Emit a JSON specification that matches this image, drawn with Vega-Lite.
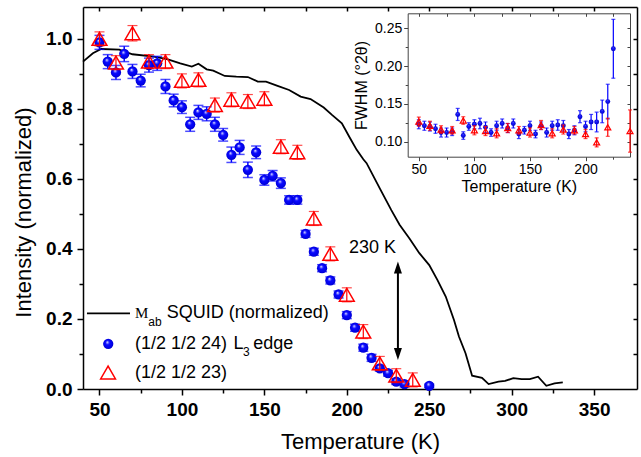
{
  "$schema": "https://vega.github.io/schema/vega-lite/v6.json",
  "width": 554,
  "height": 382,
  "autosize": {"type": "none"},
  "padding": {"left": 83, "top": 7, "right": 4, "bottom": 68},
  "background": "white",
  "config": {
    "view": {"stroke": null},
    "axis": {"grid": false, "labelFont": "Liberation Sans", "titleFont": "Liberation Sans", "domainColor": "black", "tickColor": "black", "labelColor": "black", "titleColor": "black", "labelOverlap": false, "labelFlush": false},
    "text": {"font": "Liberation Sans", "color": "black"}
  },
  "datasets": {
    "squid": [
      {"T": 40, "M": 0.935}, {"T": 46, "M": 0.959}, {"T": 51, "M": 0.971}, {"T": 62, "M": 0.969}, {"T": 70, "M": 0.956},
      {"T": 83, "M": 0.949}, {"T": 91, "M": 0.942}, {"T": 99, "M": 0.930}, {"T": 106, "M": 0.921}, {"T": 110, "M": 0.929},
      {"T": 115, "M": 0.913}, {"T": 119, "M": 0.909}, {"T": 126, "M": 0.894}, {"T": 133, "M": 0.892}, {"T": 140, "M": 0.891},
      {"T": 146, "M": 0.878}, {"T": 151, "M": 0.878}, {"T": 158, "M": 0.866}, {"T": 165, "M": 0.854}, {"T": 172, "M": 0.835},
      {"T": 178, "M": 0.828}, {"T": 186, "M": 0.804}, {"T": 191, "M": 0.783}, {"T": 197, "M": 0.759}, {"T": 202, "M": 0.716},
      {"T": 206, "M": 0.683}, {"T": 210, "M": 0.656}, {"T": 212, "M": 0.645}, {"T": 220, "M": 0.573}, {"T": 227, "M": 0.511},
      {"T": 232, "M": 0.469}, {"T": 238, "M": 0.430}, {"T": 244, "M": 0.388}, {"T": 250, "M": 0.354}, {"T": 255, "M": 0.311},
      {"T": 260, "M": 0.264}, {"T": 265, "M": 0.197}, {"T": 268, "M": 0.150}, {"T": 272, "M": 0.102}, {"T": 276, "M": 0.038},
      {"T": 282, "M": 0.032}, {"T": 286, "M": 0.014}, {"T": 292, "M": 0.021}, {"T": 296, "M": 0.023}, {"T": 301, "M": 0.031},
      {"T": 306, "M": 0.028}, {"T": 311, "M": 0.028}, {"T": 316, "M": 0.035}, {"T": 321, "M": 0.009}, {"T": 326, "M": 0.016},
      {"T": 331, "M": 0.019}
    ],
    "blue": [
      {"T": 50, "I": 0.99, "e": 0.02}, {"T": 55, "I": 0.935, "e": 0.02}, {"T": 60, "I": 0.904, "e": 0.02}, {"T": 65, "I": 0.957, "e": 0.022},
      {"T": 70, "I": 0.907, "e": 0.02}, {"T": 75, "I": 0.881, "e": 0.018}, {"T": 80, "I": 0.925, "e": 0.02}, {"T": 85, "I": 0.93, "e": 0.02},
      {"T": 90, "I": 0.864, "e": 0.02}, {"T": 95, "I": 0.824, "e": 0.018}, {"T": 100, "I": 0.805, "e": 0.018}, {"T": 105, "I": 0.756, "e": 0.02},
      {"T": 110, "I": 0.79, "e": 0.02}, {"T": 115, "I": 0.786, "e": 0.02}, {"T": 120, "I": 0.756, "e": 0.02}, {"T": 125, "I": 0.726, "e": 0.018},
      {"T": 130, "I": 0.669, "e": 0.022}, {"T": 135, "I": 0.69, "e": 0.02}, {"T": 140, "I": 0.626, "e": 0.022}, {"T": 145, "I": 0.676, "e": 0.018},
      {"T": 150, "I": 0.597, "e": 0.015}, {"T": 155, "I": 0.609, "e": 0.015}, {"T": 160, "I": 0.588, "e": 0.015}, {"T": 165, "I": 0.54, "e": 0.012},
      {"T": 170, "I": 0.54, "e": 0.012}, {"T": 175, "I": 0.443, "e": 0.01}, {"T": 180, "I": 0.392, "e": 0.01}, {"T": 185, "I": 0.345, "e": 0.01},
      {"T": 190, "I": 0.31, "e": 0.01}, {"T": 195, "I": 0.27, "e": 0.01}, {"T": 200, "I": 0.211, "e": 0.01}, {"T": 205, "I": 0.175, "e": 0.01},
      {"T": 210, "I": 0.118, "e": 0.01}, {"T": 215, "I": 0.089, "e": 0.01}, {"T": 220, "I": 0.059, "e": 0.008}, {"T": 225, "I": 0.045, "e": 0.008},
      {"T": 230, "I": 0.021, "e": 0.008}, {"T": 235, "I": 0.014, "e": 0.008}, {"T": 250, "I": 0.009, "e": 0.005}
    ],
    "red": [
      {"T": 50, "I": 1.0, "e": 0.02}, {"T": 60, "I": 0.932, "e": 0.02}, {"T": 70, "I": 1.016, "e": 0.022}, {"T": 80, "I": 0.935, "e": 0.02},
      {"T": 90, "I": 0.935, "e": 0.02}, {"T": 100, "I": 0.88, "e": 0.02}, {"T": 110, "I": 0.883, "e": 0.02}, {"T": 120, "I": 0.811, "e": 0.02},
      {"T": 130, "I": 0.826, "e": 0.02}, {"T": 140, "I": 0.821, "e": 0.02}, {"T": 150, "I": 0.829, "e": 0.02}, {"T": 160, "I": 0.692, "e": 0.02},
      {"T": 170, "I": 0.676, "e": 0.02}, {"T": 180, "I": 0.487, "e": 0.02}, {"T": 190, "I": 0.386, "e": 0.02}, {"T": 200, "I": 0.269, "e": 0.02},
      {"T": 210, "I": 0.164, "e": 0.02}, {"T": 220, "I": 0.073, "e": 0.02}, {"T": 230, "I": 0.038, "e": 0.02}, {"T": 240, "I": 0.026, "e": 0.02}
    ],
    "iblue": [
      {"T": 50, "W": 0.123, "e": 0.006}, {"T": 55, "W": 0.121, "e": 0.006}, {"T": 60, "W": 0.12, "e": 0.006}, {"T": 65, "W": 0.117, "e": 0.006},
      {"T": 70, "W": 0.112, "e": 0.006}, {"T": 75, "W": 0.112, "e": 0.006}, {"T": 80, "W": 0.113, "e": 0.005}, {"T": 85, "W": 0.136, "e": 0.008},
      {"T": 90, "W": 0.108, "e": 0.005}, {"T": 95, "W": 0.12, "e": 0.005}, {"T": 100, "W": 0.123, "e": 0.006}, {"T": 105, "W": 0.124, "e": 0.007},
      {"T": 110, "W": 0.119, "e": 0.007}, {"T": 115, "W": 0.112, "e": 0.005}, {"T": 120, "W": 0.121, "e": 0.006}, {"T": 125, "W": 0.124, "e": 0.006},
      {"T": 130, "W": 0.118, "e": 0.006}, {"T": 135, "W": 0.124, "e": 0.006}, {"T": 140, "W": 0.11, "e": 0.006}, {"T": 145, "W": 0.115, "e": 0.005},
      {"T": 150, "W": 0.121, "e": 0.006}, {"T": 155, "W": 0.11, "e": 0.005}, {"T": 160, "W": 0.121, "e": 0.005}, {"T": 165, "W": 0.112, "e": 0.006},
      {"T": 170, "W": 0.121, "e": 0.006}, {"T": 175, "W": 0.122, "e": 0.007}, {"T": 180, "W": 0.121, "e": 0.007}, {"T": 185, "W": 0.11, "e": 0.006},
      {"T": 190, "W": 0.115, "e": 0.006}, {"T": 195, "W": 0.133, "e": 0.008}, {"T": 200, "W": 0.12, "e": 0.007}, {"T": 205, "W": 0.126, "e": 0.01},
      {"T": 210, "W": 0.126, "e": 0.013}, {"T": 215, "W": 0.14, "e": 0.015}, {"T": 220, "W": 0.153, "e": 0.023}, {"T": 225, "W": 0.223, "e": 0.039}
    ],
    "ired": [
      {"T": 50, "W": 0.1265, "e": 0.006}, {"T": 60, "W": 0.121, "e": 0.006}, {"T": 70, "W": 0.116, "e": 0.005}, {"T": 80, "W": 0.115, "e": 0.005},
      {"T": 90, "W": 0.128, "e": 0.005}, {"T": 100, "W": 0.115, "e": 0.006}, {"T": 110, "W": 0.114, "e": 0.006}, {"T": 120, "W": 0.111, "e": 0.006},
      {"T": 130, "W": 0.118, "e": 0.006}, {"T": 140, "W": 0.115, "e": 0.005}, {"T": 150, "W": 0.112, "e": 0.006}, {"T": 160, "W": 0.122, "e": 0.006},
      {"T": 170, "W": 0.111, "e": 0.006}, {"T": 180, "W": 0.116, "e": 0.006}, {"T": 190, "W": 0.115, "e": 0.005}, {"T": 200, "W": 0.11, "e": 0.006},
      {"T": 210, "W": 0.099, "e": 0.006}, {"T": 220, "W": 0.119, "e": 0.012}, {"T": 240, "W": 0.114, "e": 0.028}
    ]
  },
  "layer": [
    {
      "layer": [
        {
          "data": {"name": "squid"},
          "mark": {"type": "point", "opacity": 0},
          "encoding": {
            "x": {"field": "T", "type": "quantitative", "scale": {"domain": [40, 376], "nice": false, "zero": false},
              "axis": {"orient": "bottom", "values": [50, 75, 100, 125, 150, 175, 200, 225, 250, 275, 300, 325, 350], "format": "d",
                "labelExpr": "datum.value % 50 === 0 ? datum.label : ''",
                "tickSize": {"condition": {"test": "datum.value % 50 === 0", "value": 6}, "value": 4},
                "tickWidth": 1.5, "domainWidth": 1.5, "labelFontSize": 19, "labelFontWeight": "bold", "labelPadding": 5,
                "title": "Temperature (K)", "titleFontSize": 22, "titleFontWeight": "normal", "titlePadding": 12}},
            "y": {"field": "M", "type": "quantitative", "scale": {"domain": [0, 1.091], "nice": false, "zero": false},
              "axis": {"orient": "left", "values": [0, 0.1, 0.2, 0.3, 0.4, 0.5, 0.6, 0.7, 0.8, 0.9, 1.0], "format": ".1f",
                "labelExpr": "round(datum.value*10) % 2 === 0 ? datum.label : ''",
                "tickSize": {"condition": {"test": "round(datum.value*10) % 2 === 0", "value": 6}, "value": 4},
                "tickWidth": 1.5, "domainWidth": 1.5, "labelFontSize": 19, "labelFontWeight": "bold", "labelPadding": 5,
                "title": "Intensity (normalized)", "titleFontSize": 22, "titleFontWeight": "normal", "titlePadding": 10, "titleY": 205}}
          }
        },
        {
          "data": {"name": "squid"},
          "mark": {"type": "point", "opacity": 0},
          "encoding": {
            "x": {"field": "T", "type": "quantitative", "scale": {"domain": [40, 376], "nice": false, "zero": false},
              "axis": {"orient": "top", "values": [50, 75, 100, 125, 150, 175, 200, 225, 250, 275, 300, 325, 350], "labels": false, "tickSize": -4, "tickWidth": 1.5, "domainWidth": 1.5, "title": null}},
            "y": {"field": "M", "type": "quantitative", "scale": {"domain": [0, 1.091], "nice": false, "zero": false},
              "axis": {"orient": "right", "values": [0.1, 0.2, 0.3, 0.4, 0.5, 0.6, 0.7, 0.8, 0.9, 1.0], "labels": false, "tickSize": -4, "tickWidth": 1.5, "domainWidth": 1.5, "title": null}}
          }
        },
        {
          "data": {"name": "squid"},
          "mark": {"type": "line", "color": "black", "strokeWidth": 1.8},
          "encoding": {
            "x": {"field": "T", "type": "quantitative", "scale": {"domain": [40, 376], "nice": false, "zero": false}, "axis": null},
            "y": {"field": "M", "type": "quantitative", "scale": {"domain": [0, 1.091], "nice": false, "zero": false}, "axis": null}
          }
        },
        {
          "data": {"name": "blue"},
          "mark": {"type": "errorbar", "color": "#0000ff", "thickness": 1.5, "ticks": {"size": 10, "color": "#0000ff"}},
          "encoding": {
            "x": {"field": "T", "type": "quantitative", "scale": {"domain": [40, 376], "nice": false, "zero": false}, "axis": null},
            "y": {"field": "I", "type": "quantitative", "scale": {"domain": [0, 1.091], "nice": false, "zero": false}, "axis": null},
            "yError": {"field": "e"}
          }
        },
        {
          "data": {"name": "blue"},
          "mark": {"type": "point", "shape": "circle", "filled": true, "size": 105, "opacity": 1,
            "fill": {"gradient": "radial", "x1": 0.4, "y1": 0.33, "r1": 0, "x2": 0.5, "y2": 0.5, "r2": 0.55,
              "stops": [{"offset": 0, "color": "#ffffff"}, {"offset": 0.13, "color": "#9a9aff"}, {"offset": 0.36, "color": "#0a0aff"}, {"offset": 0.8, "color": "#0000e6"}, {"offset": 1, "color": "#0000b4"}]}},
          "encoding": {
            "x": {"field": "T", "type": "quantitative", "scale": {"domain": [40, 376], "nice": false, "zero": false}, "axis": null},
            "y": {"field": "I", "type": "quantitative", "scale": {"domain": [0, 1.091], "nice": false, "zero": false}, "axis": null}
          }
        },
        {
          "data": {"name": "red"},
          "mark": {"type": "errorbar", "color": "#ff0000", "thickness": 1.2, "ticks": {"size": 10, "color": "#ff0000"}},
          "encoding": {
            "x": {"field": "T", "type": "quantitative", "scale": {"domain": [40, 376], "nice": false, "zero": false}, "axis": null},
            "y": {"field": "I", "type": "quantitative", "scale": {"domain": [0, 1.091], "nice": false, "zero": false}, "axis": null},
            "yError": {"field": "e"}
          }
        },
        {
          "data": {"name": "red"},
          "mark": {"type": "point", "shape": "triangle-up", "filled": false, "size": 220, "opacity": 1, "color": "#ff0000", "strokeWidth": 1.5},
          "encoding": {
            "x": {"field": "T", "type": "quantitative", "scale": {"domain": [40, 376], "nice": false, "zero": false}, "axis": null},
            "y": {"field": "I", "type": "quantitative", "scale": {"domain": [0, 1.091], "nice": false, "zero": false}, "axis": null}
          }
        },
        {
          "data": {"values": [{"x": 42.4, "x2": 68.5, "y": 0.216}]},
          "mark": {"type": "rule", "color": "black", "strokeWidth": 1.8},
          "encoding": {
            "x": {"field": "x", "type": "quantitative", "scale": {"domain": [40, 376], "nice": false, "zero": false}, "axis": null},
            "x2": {"field": "x2"},
            "y": {"field": "y", "type": "quantitative", "scale": {"domain": [0, 1.091], "nice": false, "zero": false}, "axis": null}
          }
        },
        {
          "data": {"values": [{"x": 55.3, "y": 0.129}]},
          "mark": {"type": "point", "shape": "circle", "filled": true, "size": 105, "opacity": 1,
            "fill": {"gradient": "radial", "x1": 0.4, "y1": 0.33, "r1": 0, "x2": 0.5, "y2": 0.5, "r2": 0.55,
              "stops": [{"offset": 0, "color": "#ffffff"}, {"offset": 0.13, "color": "#9a9aff"}, {"offset": 0.36, "color": "#0a0aff"}, {"offset": 0.8, "color": "#0000e6"}, {"offset": 1, "color": "#0000b4"}]}},
          "encoding": {
            "x": {"field": "x", "type": "quantitative", "scale": {"domain": [40, 376], "nice": false, "zero": false}, "axis": null},
            "y": {"field": "y", "type": "quantitative", "scale": {"domain": [0, 1.091], "nice": false, "zero": false}, "axis": null}
          }
        },
        {
          "data": {"values": [{"x": 55.2, "y": 0.047}]},
          "mark": {"type": "point", "shape": "triangle-up", "filled": false, "size": 220, "opacity": 1, "color": "#ff0000", "strokeWidth": 1.5},
          "encoding": {
            "x": {"field": "x", "type": "quantitative", "scale": {"domain": [40, 376], "nice": false, "zero": false}, "axis": null},
            "y": {"field": "y", "type": "quantitative", "scale": {"domain": [0, 1.091], "nice": false, "zero": false}, "axis": null}
          }
        },
        {
          "data": {"values": [
            {"x": 90.8, "y": 0.216, "t": "SQUID (normalized)"},
            {"x": 71.5, "y": 0.129, "t": "(1/2 1/2 24)"},
            {"x": 131.3, "y": 0.129, "t": "L"},
            {"x": 143.2, "y": 0.129, "t": "edge"},
            {"x": 71.5, "y": 0.045, "t": "(1/2 1/2 23)"}
          ]},
          "mark": {"type": "text", "align": "left", "baseline": "middle", "fontSize": 18, "font": "Liberation Sans"},
          "encoding": {
            "x": {"field": "x", "type": "quantitative", "scale": {"domain": [40, 376], "nice": false, "zero": false}, "axis": null},
            "y": {"field": "y", "type": "quantitative", "scale": {"domain": [0, 1.091], "nice": false, "zero": false}, "axis": null},
            "text": {"field": "t"}
          }
        },
        {
          "data": {"values": [{"x": 71.5, "y": 0.216, "t": "M"}]},
          "mark": {"type": "text", "align": "left", "baseline": "middle", "fontSize": 15, "font": "Liberation Serif"},
          "encoding": {
            "x": {"field": "x", "type": "quantitative", "scale": {"domain": [40, 376], "nice": false, "zero": false}, "axis": null},
            "y": {"field": "y", "type": "quantitative", "scale": {"domain": [0, 1.091], "nice": false, "zero": false}, "axis": null},
            "text": {"field": "t"}
          }
        },
        {
          "data": {"values": [{"x": 79.6, "y": 0.192, "t": "ab"}, {"x": 137.0, "y": 0.107, "t": "3"}]},
          "mark": {"type": "text", "align": "left", "baseline": "middle", "fontSize": 12, "font": "Liberation Sans"},
          "encoding": {
            "x": {"field": "x", "type": "quantitative", "scale": {"domain": [40, 376], "nice": false, "zero": false}, "axis": null},
            "y": {"field": "y", "type": "quantitative", "scale": {"domain": [0, 1.091], "nice": false, "zero": false}, "axis": null},
            "text": {"field": "t"}
          }
        },
        {
          "data": {"values": [{"x": 215.6, "y": 0.402, "t": "230 K"}]},
          "mark": {"type": "text", "align": "center", "baseline": "middle", "fontSize": 18, "font": "Liberation Sans"},
          "encoding": {
            "x": {"field": "x", "type": "quantitative", "scale": {"domain": [40, 376], "nice": false, "zero": false}, "axis": null},
            "y": {"field": "y", "type": "quantitative", "scale": {"domain": [0, 1.091], "nice": false, "zero": false}, "axis": null},
            "text": {"field": "t"}
          }
        },
        {
          "data": {"values": [{"x": 231, "y": 0.1, "y2": 0.345}]},
          "mark": {"type": "rule", "color": "black", "strokeWidth": 2},
          "encoding": {
            "x": {"field": "x", "type": "quantitative", "scale": {"domain": [40, 376], "nice": false, "zero": false}, "axis": null},
            "y": {"field": "y", "type": "quantitative", "scale": {"domain": [0, 1.091], "nice": false, "zero": false}, "axis": null},
            "y2": {"field": "y2"}
          }
        },
        {
          "data": {"values": [{"x": 231, "y": 0.347, "d": "up"}, {"x": 231, "y": 0.1, "d": "down"}]},
          "mark": {"type": "point", "filled": true, "size": 144, "opacity": 1, "color": "black"},
          "encoding": {
            "x": {"field": "x", "type": "quantitative", "scale": {"domain": [40, 376], "nice": false, "zero": false}, "axis": null},
            "y": {"field": "y", "type": "quantitative", "scale": {"domain": [0, 1.091], "nice": false, "zero": false}, "axis": null},
            "shape": {"field": "d", "type": "nominal", "scale": {"domain": ["up", "down"], "range": ["M0,-1L0.667,1L-0.667,1Z", "M0,1L0.667,-1L-0.667,-1Z"]}, "legend": null}
          }
        }
      ],
      "resolve": {"axis": {"x": "independent", "y": "independent"}}
    },
    {
      "layer": [
        {
          "data": {"name": "iblue"},
          "mark": {"type": "point", "opacity": 0},
          "encoding": {
            "x": {"field": "T", "type": "quantitative", "scale": {"domain": [40, 240], "nice": false, "zero": false, "range": [324.7, 547]},
              "axis": {"orient": "bottom", "offset": -232.3, "values": [50, 75, 100, 125, 150, 175, 200, 225], "format": "d",
                "labelExpr": "datum.value % 50 === 0 ? datum.label : ''",
                "tickSize": {"condition": {"test": "datum.value % 50 === 0", "value": 4}, "value": 2.5},
                "domainColor": "#444", "tickColor": "#444", "labelFontSize": 14, "labelPadding": 2,
                "title": "Temperature (K)", "titleFontSize": 16, "titleFontWeight": "normal", "titlePadding": 2}},
            "y": {"field": "W", "type": "quantitative", "scale": {"domain": [0.08, 0.27], "nice": false, "zero": false, "range": [149.7, 6.3]},
              "axis": {"orient": "left", "offset": -324.7, "values": [0.1, 0.125, 0.15, 0.175, 0.2, 0.225, 0.25], "format": ".2f",
                "labelExpr": "round(datum.value*1000) % 50 === 0 ? datum.label : ''",
                "tickSize": {"condition": {"test": "round(datum.value*1000) % 50 === 0", "value": 4}, "value": 2.5},
                "domainColor": "#444", "tickColor": "#444", "labelFontSize": 14, "labelPadding": 2,
                "title": "FWHM (°2θ)", "titleFontSize": 16, "titleFontWeight": "normal", "titlePadding": 5}}
          }
        },
        {
          "data": {"name": "iblue"},
          "mark": {"type": "point", "opacity": 0},
          "encoding": {
            "x": {"field": "T", "type": "quantitative", "scale": {"domain": [40, 240], "nice": false, "zero": false, "range": [324.7, 547]},
              "axis": {"orient": "top", "offset": -6.3, "values": [50, 75, 100, 125, 150, 175, 200, 225], "labels": false, "tickSize": -3, "domainColor": "#444", "tickColor": "#444", "title": null}},
            "y": {"field": "W", "type": "quantitative", "scale": {"domain": [0.08, 0.27], "nice": false, "zero": false, "range": [149.7, 6.3]},
              "axis": {"orient": "right", "offset": -7, "values": [0.1, 0.125, 0.15, 0.175, 0.2, 0.225, 0.25], "labels": false, "tickSize": -3, "domainColor": "#444", "tickColor": "#444", "title": null}}
          }
        },
        {
          "data": {"name": "iblue"},
          "mark": {"type": "errorbar", "color": "#0000ff", "thickness": 1.2, "ticks": {"size": 4, "color": "#0000ff"}},
          "encoding": {
            "x": {"field": "T", "type": "quantitative", "scale": {"domain": [40, 240], "nice": false, "zero": false, "range": [324.7, 547]}, "axis": null},
            "y": {"field": "W", "type": "quantitative", "scale": {"domain": [0.08, 0.27], "nice": false, "zero": false, "range": [149.7, 6.3]}, "axis": null},
            "yError": {"field": "e"}
          }
        },
        {
          "data": {"name": "iblue"},
          "mark": {"type": "point", "shape": "circle", "filled": true, "size": 24, "opacity": 1,
            "fill": {"gradient": "radial", "x1": 0.4, "y1": 0.33, "r1": 0, "x2": 0.5, "y2": 0.5, "r2": 0.55,
              "stops": [{"offset": 0, "color": "#d0d0ff"}, {"offset": 0.25, "color": "#1a1aff"}, {"offset": 1, "color": "#0000c0"}]}},
          "encoding": {
            "x": {"field": "T", "type": "quantitative", "scale": {"domain": [40, 240], "nice": false, "zero": false, "range": [324.7, 547]}, "axis": null},
            "y": {"field": "W", "type": "quantitative", "scale": {"domain": [0.08, 0.27], "nice": false, "zero": false, "range": [149.7, 6.3]}, "axis": null}
          }
        },
        {
          "data": {"name": "ired"},
          "mark": {"type": "errorbar", "color": "#ff0000", "thickness": 1.2, "ticks": {"size": 4, "color": "#ff0000"}},
          "encoding": {
            "x": {"field": "T", "type": "quantitative", "scale": {"domain": [40, 240], "nice": false, "zero": false, "range": [324.7, 547]}, "axis": null},
            "y": {"field": "W", "type": "quantitative", "scale": {"domain": [0.08, 0.27], "nice": false, "zero": false, "range": [149.7, 6.3]}, "axis": null},
            "yError": {"field": "e"}
          }
        },
        {
          "data": {"name": "ired"},
          "mark": {"type": "point", "shape": "triangle-up", "filled": false, "size": 36, "opacity": 1, "color": "#ff0000", "strokeWidth": 1.2},
          "encoding": {
            "x": {"field": "T", "type": "quantitative", "scale": {"domain": [40, 240], "nice": false, "zero": false, "range": [324.7, 547]}, "axis": null},
            "y": {"field": "W", "type": "quantitative", "scale": {"domain": [0.08, 0.27], "nice": false, "zero": false, "range": [149.7, 6.3]}, "axis": null}
          }
        }
      ],
      "resolve": {"axis": {"x": "independent", "y": "independent"}}
    }
  ],
  "resolve": {"scale": {"x": "independent", "y": "independent"}, "axis": {"x": "independent", "y": "independent"}}
}
